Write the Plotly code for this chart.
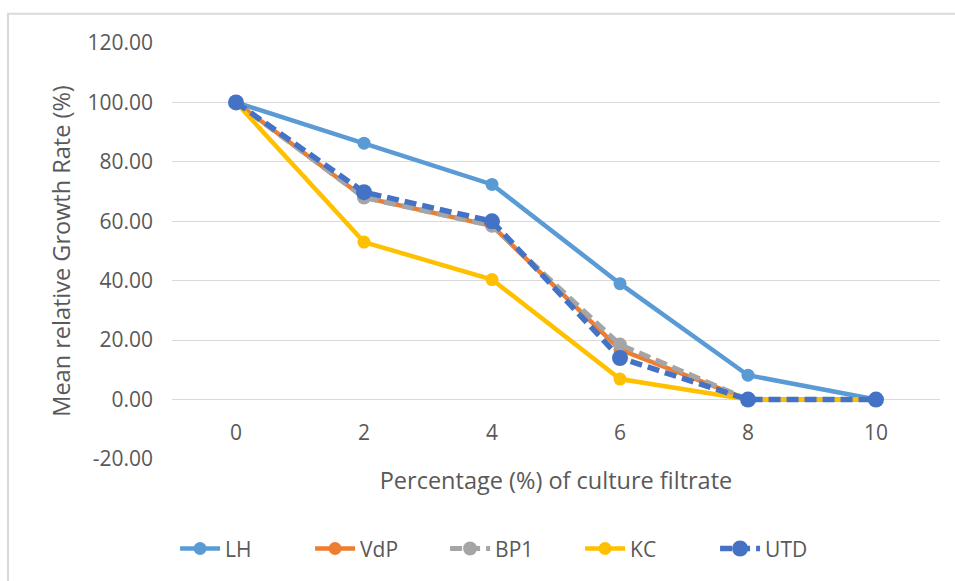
import plotly.graph_objects as go

# Culture filtrate concentration (%) on the category axis
concentrations = ["0", "2", "4", "6", "8", "10"]

# Mean relative growth rate (%) per isolate
lh = [100.0, 86.3, 72.4, 39.0, 8.2, 0.0]
vdp = [100.0, 68.0, 58.5, 16.8, 0.0, 0.0]
bp1 = [100.0, 68.0, 58.5, 18.5, 0.0, 0.0]
kc = [100.0, 53.0, 40.4, 6.9, 0.0, 0.0]
utd = [100.0, 69.8, 60.0, 14.0, 0.0, 0.0]

# Value axis ticks
y_ticks = [-20, 0, 20, 40, 60, 80, 100, 120]

series = [
    ("LH", lh, "#5B9BD5", "solid", 4.5, 13),
    ("VdP", vdp, "#ED7D31", "solid", 4.5, 13),
    ("BP1", bp1, "#A5A5A5", "12px,6px", 5, 14),
    ("KC", kc, "#FFC000", "solid", 4.5, 13),
    ("UTD", utd, "#4472C4", "12px,6px", 5.5, 16),
]

fig = go.Figure()
for name, values, color, dash, lw, msize in series:
    fig.add_trace(go.Scatter(
        x=concentrations, y=values, name=name, mode="lines+markers",
        line=dict(color=color, width=lw, dash=dash),
        marker=dict(color=color, size=msize, symbol="circle"),
    ))

font_family = "Open Sans, Liberation Sans, sans-serif"
grey_text = "#595959"

fig.update_layout(
    width=955, height=581,
    margin=dict(l=172, r=15, t=43, b=122),
    paper_bgcolor="white", plot_bgcolor="white",
    font=dict(family=font_family, color=grey_text, size=21),
    showlegend=True,
    legend=dict(
        orientation="h", x=0.004, xanchor="left", y=-0.216, yanchor="middle",
        font=dict(size=21, color=grey_text), entrywidth=80, itemwidth=40,
    ),
    xaxis=dict(
        type="category", range=[-0.5, 5.5],
        anchor="free", position=(0 - (-20)) / (120 - (-20)),
        showgrid=False, zeroline=False, showline=False, automargin=False,
        ticks="", ticklabelstandoff=18, tickfont=dict(size=21, color=grey_text),
        title=dict(text="Percentage (%) of culture filtrate",
                   font=dict(size=23.5, color=grey_text), standoff=27),
    ),
    yaxis=dict(
        range=[-20, 120], tickvals=y_ticks,
        ticktext=[f"{v:.2f}" for v in y_ticks],
        showgrid=True, gridcolor="#d9d9d9", gridwidth=1,
        zeroline=False, showline=False, ticks="", automargin=False,
        ticklabelstandoff=18, tickfont=dict(size=21, color=grey_text),
        title=dict(text="Mean relative Growth Rate (%)",
                   font=dict(size=23.5, color=grey_text), standoff=10),
    ),
    shapes=[dict(
        type="rect", xref="paper", yref="paper",
        x0=-0.2135, x1=1.2, y0=-0.6, y1=1.0705,
        line=dict(color="#d9d9d9", width=2), layer="below",
    )],
)

fig.write_html("out.html")
